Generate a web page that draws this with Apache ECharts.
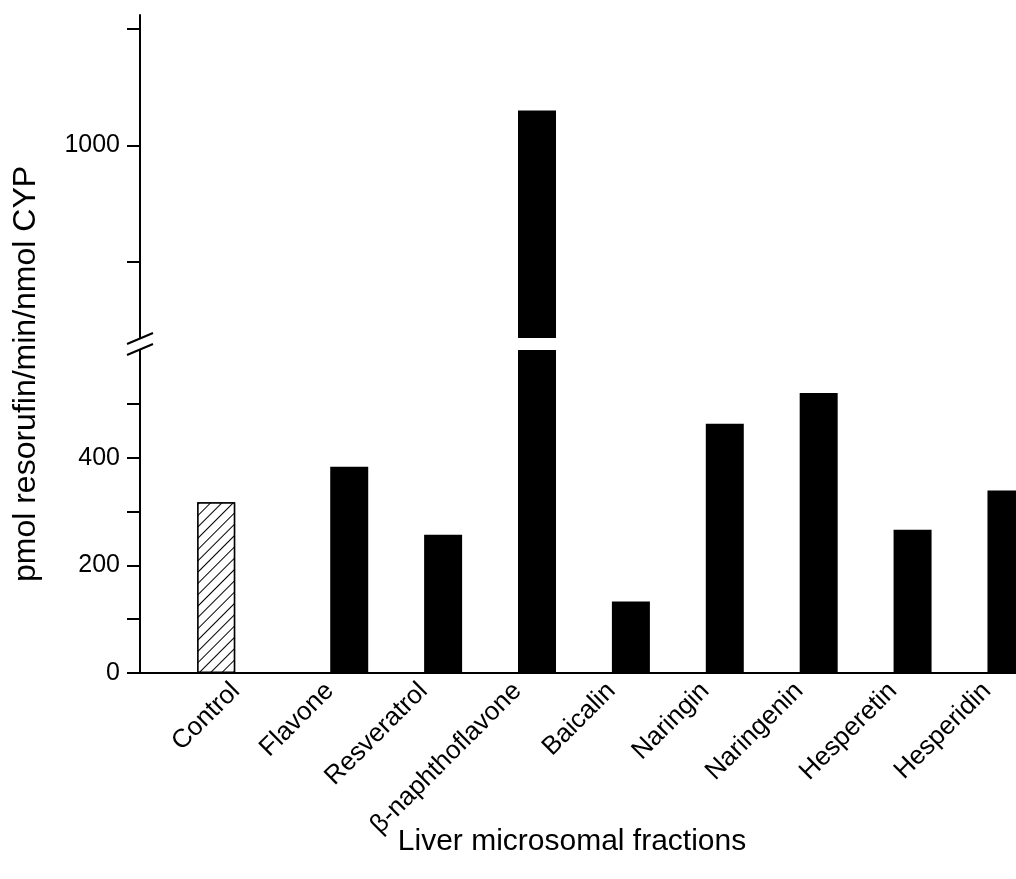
<!DOCTYPE html>
<html>
<head>
<meta charset="utf-8">
<script src="https://cdn.jsdelivr.net/npm/echarts@6/dist/echarts.min.js"></script>
<style>
  html, body { margin: 0; padding: 0; background: #fff; }
  #main { width: 1016px; height: 879px; }
</style>
</head>
<body>
<div id="main"></div>
<script>
// data
const categories = ['Control', 'Flavone', 'Resveratrol', 'β-naphthoflavone', 'Baicalin',
  'Naringin', 'Naringenin', 'Hesperetin', 'Hesperidin'];
const controlValues = [317, null, null, null, null, null, null, null, null];
const treatedValues = [null, 383, 257, 1060, 133, 463, 520, 266, 339];
const lowerTicks = [0, 100, 200, 300, 400, 500];
const lowerLabels = [0, 200, 400];
const upperTicks = [800, 1000, 1200];
const upperLabels = [1000];

const FONT = 'Liberation Sans';
const AXIS_X = 140;
const UPPER_TOP = 15, UPPER_BOTTOM = 338;
const LOWER_TOP = 350, LOWER_BOTTOM = 673;

const pairs = vals => vals.map((v, i) => [i, v]);
const catIdx = categories.map((_, i) => i);

const yAxisBase = (ticks, labels) => ({
  type: 'value',
  splitLine: { show: false },
  axisLine: { show: true, onZero: false, lineStyle: { color: '#000', width: 2 } },
  axisTick: { show: true, length: 13, lineStyle: { color: '#000', width: 2 }, customValues: ticks },
  axisLabel: {
    color: '#000', fontFamily: FONT, fontSize: 25, margin: 20,
    customValues: labels, formatter: v => String(v),
  },
});

const xAxisBase = {
  type: 'value',
  min: -1.02,
  max: 8.31,
  splitLine: { show: false },
};

const hatch = {
  color: '#fff',
  borderColor: '#000',
  borderWidth: 1.5,
  decal: {
    symbol: 'rect',
    color: '#000',
    backgroundColor: '#fff',
    dashArrayX: [1, 0],
    dashArrayY: [1, 7],
    rotation: -Math.PI / 4,
  },
};

const barSeries = (axisIdx, name, vals, style) => ({
  type: 'bar',
  name: name,
  xAxisIndex: axisIdx,
  yAxisIndex: axisIdx,
  data: pairs(vals),
  barWidth: 38,
  barGap: '3%',
  itemStyle: style,
});

const option = {
  backgroundColor: '#fff',
  animation: false,
  grid: [
    { left: AXIS_X, right: 0, top: UPPER_TOP, height: UPPER_BOTTOM - UPPER_TOP, outerBoundsMode: 'none' },
    { left: AXIS_X, right: 0, top: LOWER_TOP, height: LOWER_BOTTOM - LOWER_TOP, outerBoundsMode: 'none' },
  ],
  xAxis: [
    Object.assign({ gridIndex: 0, show: false }, xAxisBase),
    Object.assign({
      gridIndex: 1,
      axisLine: { show: true, onZero: false, lineStyle: { color: '#000', width: 2 } },
      axisTick: { show: false },
      axisLabel: {
        color: '#000', fontFamily: FONT, fontSize: 26, rotate: 45, margin: 14,
        customValues: catIdx,
        formatter: v => categories[Math.round(v)] || '',
      },
      name: 'Liver microsomal fractions',
      nameLocation: 'middle',
      nameGap: 154,
      nameMoveOverlap: false,
      nameTextStyle: { color: '#000', fontFamily: FONT, fontSize: 30, padding: [0, 12, 0, 0] },
    }, xAxisBase),
  ],
  yAxis: [
    Object.assign({ gridIndex: 0, min: 670, max: 1224 }, yAxisBase(upperTicks, upperLabels)),
    Object.assign({ gridIndex: 1, min: 0, max: 600 }, yAxisBase(lowerTicks, lowerLabels)),
  ],
  series: [
    barSeries(0, 'Control', controlValues, hatch),
    barSeries(0, 'Treated', treatedValues, { color: '#000' }),
    barSeries(1, 'Control', controlValues, hatch),
    barSeries(1, 'Treated', treatedValues, { color: '#000' }),
  ],
  graphic: [
    {
      type: 'text', x: 26, y: 374, rotation: Math.PI / 2,
      style: {
        text: 'pmol resorufin/min/nmol CYP', fill: '#000',
        font: '32px "Liberation Sans"', textAlign: 'center', textVerticalAlign: 'middle',
      },
    },
    // axis break marks
    {
      type: 'line',
      shape: { x1: AXIS_X - 13, y1: UPPER_BOTTOM + 6, x2: AXIS_X + 13, y2: UPPER_BOTTOM - 5 },
      style: { stroke: '#000', lineWidth: 2 },
    },
    {
      type: 'line',
      shape: { x1: AXIS_X - 13, y1: LOWER_TOP + 5, x2: AXIS_X + 13, y2: LOWER_TOP - 6 },
      style: { stroke: '#000', lineWidth: 2 },
    },
  ],
};

const chart = echarts.init(document.getElementById('main'));
chart.setOption(option);
</script>
</body>
</html>
